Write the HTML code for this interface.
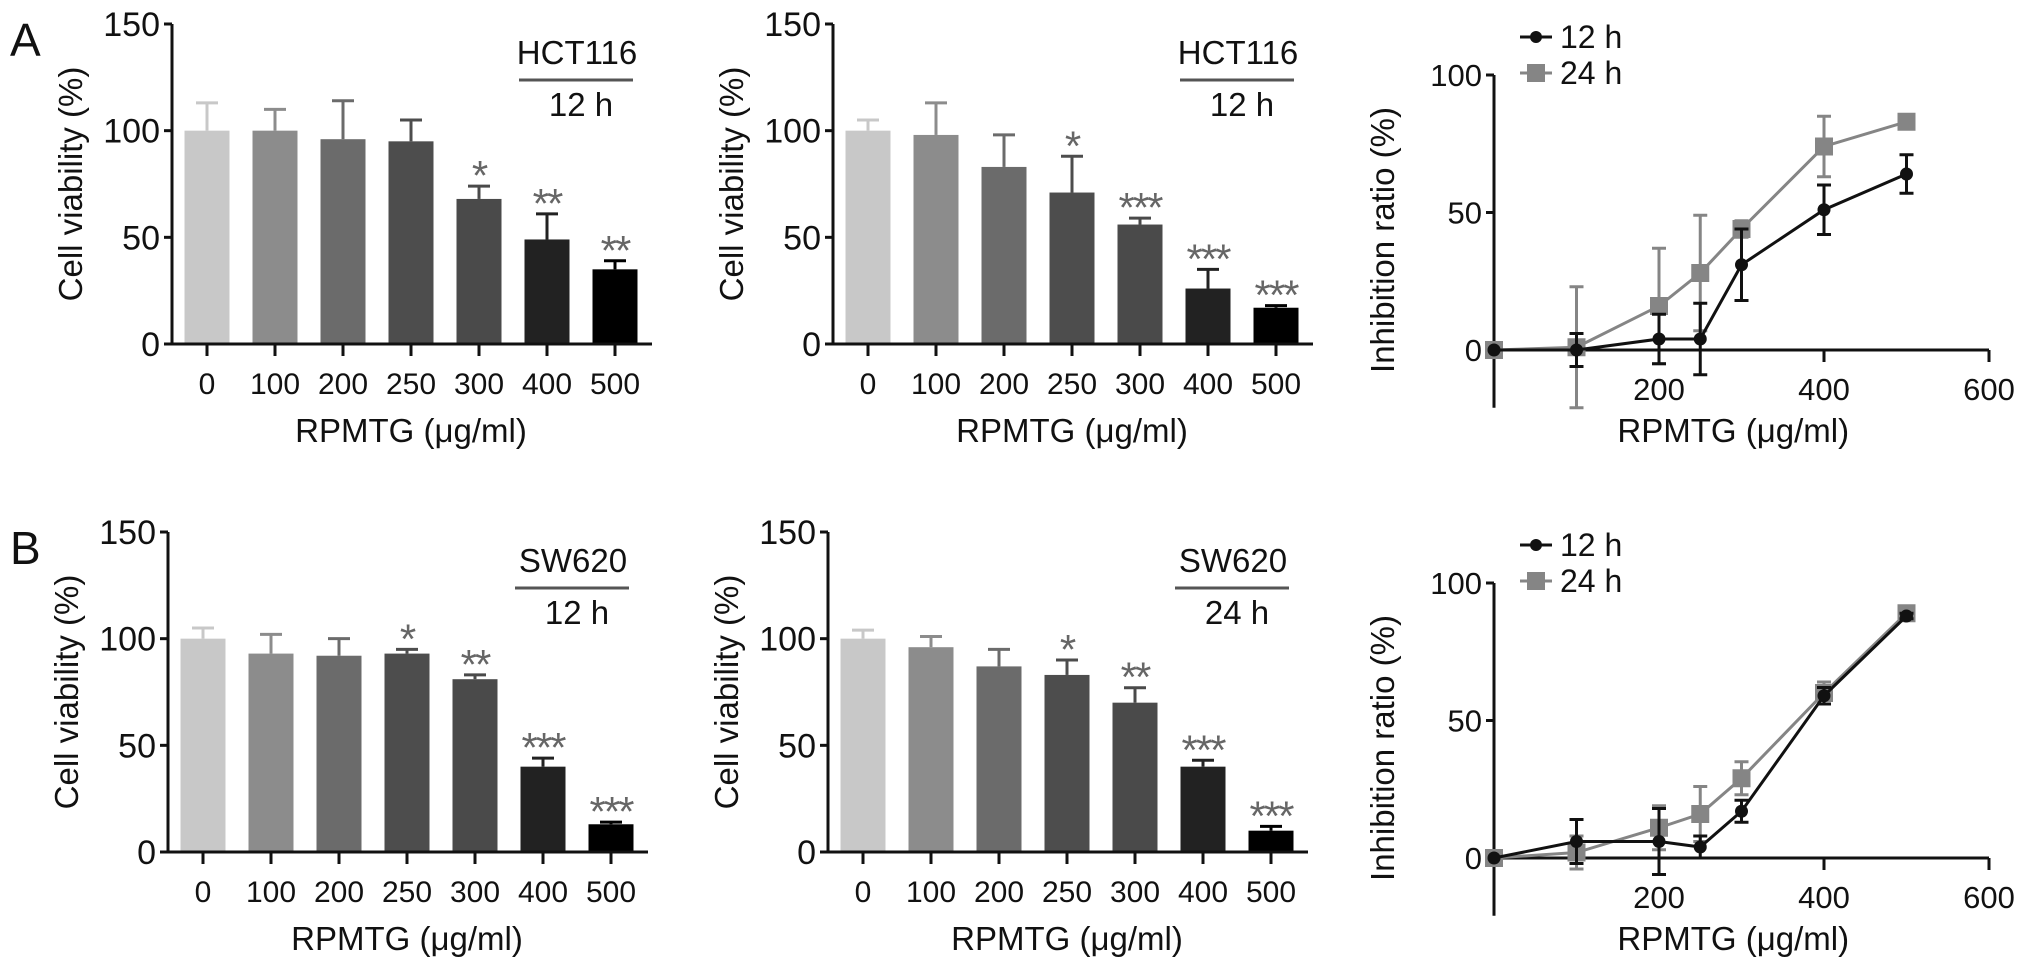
<!DOCTYPE html>
<html><head><meta charset="utf-8"><style>
html,body{margin:0;padding:0;background:#fff}
svg{display:block}
text{font-family:"Liberation Sans",Arial,sans-serif;fill:#111}
</style></head><body>
<svg id="fig" width="2032" height="970" viewBox="0 0 2032 970" xmlns="http://www.w3.org/2000/svg">
<text x="10" y="56" font-size="46">A</text>
<text x="10" y="564" font-size="46">B</text>
</svg>
<script>
const categories = ["0","100","200","250","300","400","500"];
const barColors = ["#c8c8c8","#8c8c8c","#6b6b6b","#4d4d4d","#4a4a4a","#222222","#000000"];
const a1Values = [100,100,96,95,68,49,35];
const a1ErrTop = [113,110,114,105,74,61,39];
const a1Stars = ["","","","","*","**","**"];
const a2Values = [100,98,83,71,56,26,17];
const a2ErrTop = [105,113,98,88,59,35,18];
const a2Stars = ["","","","*","***","***","***"];
const b1Values = [100,93,92,93,81,40,13];
const b1ErrTop = [105,102,100,95,83,44,14];
const b1Stars = ["","","","*","**","***","***"];
const b2Values = [100,96,87,83,70,40,10];
const b2ErrTop = [104,101,95,90,77,43,12];
const b2Stars = ["","","","*","**","***","***"];
const barYTicks = [0,50,100,150];
const lineX = [0,100,200,250,300,400,500];
const la12 = [0,0,4,4,31,51,64];
const la12Err = [0,6,9,13,13,9,7];
const la24 = [0,1,16,28,44,74,83];
const la24Err = [0,22,21,21,3,11,1];
const lb12 = [0,6,6,4,17,59,88];
const lb12Err = [0,8,12,4,4,3,1];
const lb24 = [0,2,11,16,29,60,89];
const lb24Err = [0,6,8,10,6,4,2];
const lineXTicks = [200,400,600];
const lineYTicks = [0,50,100];

const NS="http://www.w3.org/2000/svg";
const svg=document.getElementById('fig');
function mk(tag,attrs,parent){const e=document.createElementNS(NS,tag);for(const k in attrs)e.setAttribute(k,attrs[k]);(parent||svg).appendChild(e);return e;}
function txt(x,y,s,size,anchor,parent){const t=mk('text',{x:x,y:y,'font-size':size,'text-anchor':anchor||'middle'},parent);t.textContent=s;return t;}

function barChart(name,ax,y0,values,errs,stars,l1,l2){
  const g=mk('g',{});
  
  
  const h=320, first=ax+35, step=68, bw=45;
  const ys=v=>y0-v/150*h;
  const xs=i=>first+i*step;
  values.forEach((v,i)=>{
    const r=mk('rect',{x:xs(i)-bw/2,y:ys(v),width:bw,height:y0-ys(v),fill:barColors[i]},g);
    
    
    const c=barColors[i];
    mk('line',{x1:xs(i),x2:xs(i),y1:ys(v),y2:ys(errs[i]),stroke:c,'stroke-width':3},g);
    mk('line',{x1:xs(i)-11,x2:xs(i)+11,y1:ys(errs[i]),y2:ys(errs[i]),stroke:c,'stroke-width':3},g);
    if(stars[i]){const s=txt(xs(i),ys(errs[i])+4,stars[i],42,'middle',g);s.setAttribute('style','fill:#666;letter-spacing:-2px');
      
      }
  });
  mk('line',{x1:ax,x2:ax,y1:ys(150),y2:y0+1.5,stroke:'#111','stroke-width':3},g);
  mk('line',{x1:ax-6,x2:xs(6)+37,y1:y0,y2:y0,stroke:'#111','stroke-width':3},g);
  barYTicks.forEach(t=>{mk('line',{x1:ax-8,x2:ax,y1:ys(t),y2:ys(t),stroke:'#111','stroke-width':3},g);
    txt(ax-12,ys(t)+12,String(t),34,'end',g);});
  categories.forEach((c,i)=>{mk('line',{x1:xs(i),x2:xs(i),y1:y0,y2:y0+12,stroke:'#111','stroke-width':3},g);
    txt(xs(i),y0+50,c,30,'middle',g);});
  const yt=txt(0,0,'Cell viability (%)',33,'middle',g);
  yt.setAttribute('transform','translate('+(ax-90)+','+(y0-160)+') rotate(-90)');
  
  
  const xt=txt(xs(3),y0+98,'RPMTG (μg/ml)',33,'middle',g);
  
  
  const lx=xs(5)+30;
  const t1=txt(lx,y0-h+40,l1,33,'middle',g);
  
  
  mk('line',{x1:lx-58,x2:lx+56,y1:y0-h+56,y2:y0-h+56,stroke:'#555','stroke-width':3},g);
  const t2=txt(lx+4,y0-h+92,l2,33,'middle',g);
  
  
}

function lineChart(name,ax,y0,s12,e12,s24,e24){
  const g=mk('g',{});
  
  
  const xs=v=>ax+v/200*165;
  const ys=v=>y0-v/100*275;
  mk('line',{x1:ax,x2:ax,y1:ys(100),y2:ys(-21),stroke:'#111','stroke-width':3},g);
  mk('line',{x1:ax,x2:xs(600),y1:y0,y2:y0,stroke:'#111','stroke-width':3},g);
  lineYTicks.forEach(t=>{mk('line',{x1:ax-8,x2:ax,y1:ys(t),y2:ys(t),stroke:'#111','stroke-width':3},g);
    txt(ax-12,ys(t)+11,String(t),31,'end',g);});
  lineXTicks.forEach(t=>{mk('line',{x1:xs(t),x2:xs(t),y1:y0,y2:y0+12,stroke:'#111','stroke-width':3},g);
    txt(xs(t),y0+50,String(t),31,'middle',g);});
  const series=[[s24,e24,'#858585','sq','series-24h'],[s12,e12,'#111','ci','series-12h']];
  series.forEach(([vals,errs,col,shape,nm])=>{
    const sg=mk('g',{},g);
    
    
    mk('polyline',{points:vals.map((v,i)=>xs(lineX[i])+','+ys(v)).join(' '),fill:'none',stroke:col,'stroke-width':3},sg);
    vals.forEach((v,i)=>{
      const x=xs(lineX[i]);
      if(errs[i]>0){mk('line',{x1:x,x2:x,y1:ys(v+errs[i]),y2:ys(v-errs[i]),stroke:col,'stroke-width':3},sg);
        [v+errs[i],v-errs[i]].forEach(e=>mk('line',{x1:x-7,x2:x+7,y1:ys(e),y2:ys(e),stroke:col,'stroke-width':3},sg));}
      const m = shape==='sq' ? mk('rect',{x:x-9,y:ys(v)-9,width:18,height:18,fill:col},sg) : mk('circle',{cx:x,cy:ys(v),r:6.5,fill:col},sg);
      
      
    });
  });
  const yt=txt(0,0,'Inhibition ratio (%)',33,'middle',g);
  yt.setAttribute('transform','translate('+(ax-100)+','+(ys(40))+') rotate(-90)');
  
  
  const xt=txt(xs(290),y0+92,'RPMTG (μg/ml)',33,'middle',g);
  
  
  const lg=mk('g',{},g);
  
  
  const ly1=ys(100)-38, ly2=ys(100)-2, lx=ax+42;
  mk('line',{x1:lx-16,x2:lx+16,y1:ly1,y2:ly1,stroke:'#111','stroke-width':3},lg);
  mk('circle',{cx:lx,cy:ly1,r:6,fill:'#111'},lg);
  txt(lx+24,ly1+11,'12 h',32,'start',lg);
  mk('line',{x1:lx-16,x2:lx+16,y1:ly2,y2:ly2,stroke:'#858585','stroke-width':3},lg);
  mk('rect',{x:lx-9,y:ly2-9,width:18,height:18,fill:'#858585'},lg);
  txt(lx+24,ly2+11,'24 h',32,'start',lg);
}

barChart('bar-chart-a1',172,344,a1Values,a1ErrTop,a1Stars,'HCT116','12 h');
barChart('bar-chart-a2',833,344,a2Values,a2ErrTop,a2Stars,'HCT116','12 h');
lineChart('line-chart-a',1494,350,la12,la12Err,la24,la24Err);
barChart('bar-chart-b1',168,852,b1Values,b1ErrTop,b1Stars,'SW620','12 h');
barChart('bar-chart-b2',828,852,b2Values,b2ErrTop,b2Stars,'SW620','24 h');
lineChart('line-chart-b',1494,858,lb12,lb12Err,lb24,lb24Err);
</script>
</body></html>
